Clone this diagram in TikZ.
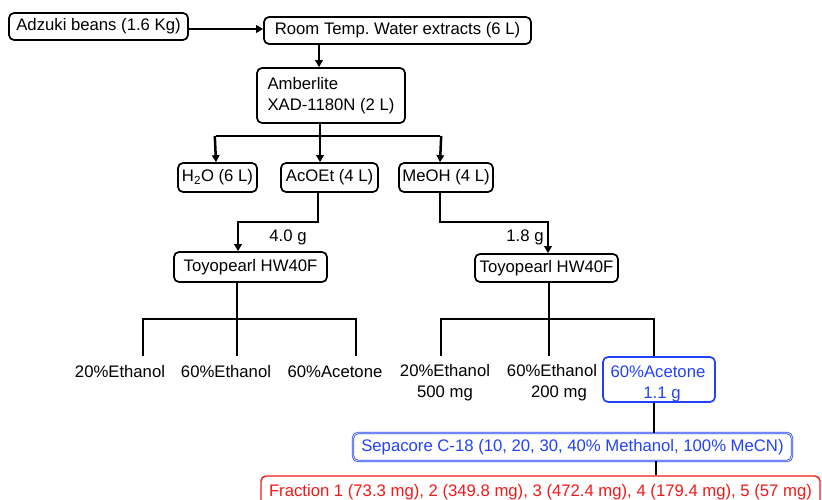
\documentclass[tikz,border=0pt]{standalone}
\usepackage{fontspec}
\setmainfont{Liberation Sans}
\usetikzlibrary{arrows.meta}
\definecolor{myblue}{RGB}{35,65,250}
\definecolor{myred}{RGB}{240,25,25}
\frenchspacing
\begin{document}
\begin{tikzpicture}[x=1pt,y=-1pt,
  every node/.style={font=\fontsize{16.7}{21}\selectfont},
  box/.style={draw, line width=1.7pt, rounded corners=5pt, inner sep=0pt, align=center},
  conn/.style={line width=2.5pt},
  arr/.style={line width=2.5pt, -{Triangle[length=7pt,width=7.5pt]}},
  thin conn/.style={line width=1.3pt},
  lbl/.style={inner sep=0pt, align=center}]
\useasboundingbox (0,0) rectangle (822,500);
\clip (0,0) rectangle (822,500);

% boxes
\node[box, minimum width=179pt, minimum height=27pt] (adz) at (98.5,26.5) {Adzuki beans (1.6 Kg)};
\node[box, minimum width=267pt, minimum height=27pt] (room) at (397.5,30.5) {Room Temp.\ Water extracts (6 L)};
\node[box, minimum width=148pt, minimum height=55pt, align=left] (amb) at (331,95.5) {Amberlite\\XAD-1180N (2 L)};
\node[box, minimum width=79pt, minimum height=29pt] (h2o) at (217.5,177.5) {H\textsubscript{2}O (6 L)};
\node[box, minimum width=97pt, minimum height=29pt] (acoet) at (329.5,177.5) {AcOEt (4 L)};
\node[box, minimum width=94pt, minimum height=29pt] (meoh) at (446,177.5) {MeOH (4 L)};
\node[box, minimum width=153pt, minimum height=30pt] (toyoL) at (250.5,267) {Toyopearl HW40F};
\node[box, minimum width=143pt, minimum height=28pt] (toyoR) at (546.5,268) {Toyopearl HW40F};
\node[box, draw=myblue, minimum width=112pt, minimum height=45pt] (blue) at (659,379.5) {};
\node[lbl, text=myblue] (bluet) at (658,383.5) {60\%Acetone\\\hspace*{8pt}1.1 g};
\node[box, draw=myblue, text=myblue, line width=0.8pt, double=white, double distance=0.7pt, minimum width=439pt, minimum height=28pt] (sep) at (572.5,447) {Sepacore C-18 (10, 20, 30, 40\% Methanol, 100\% MeCN)};
\node[box, draw=myred, text=myred, line width=1.4pt, minimum width=559pt, minimum height=32pt, text depth=4pt] (frac) at (540.5,492) {Fraction 1 (73.3 mg), 2 (349.8 mg), 3 (472.4 mg), 4 (179.4 mg), 5 (57 mg)};

% labels
\node[lbl] (l1) at (120,372) {20\%Ethanol};
\node[lbl] (l2) at (226,372) {60\%Ethanol};
\node[lbl] (l3) at (335,372) {60\%Acetone};
\node[lbl] (r1) at (445,382.5) {20\%Ethanol\\500 mg};
\node[lbl] (r2) at (552,382.5) {60\%Ethanol\\\hspace*{14pt}200 mg};
\node[lbl] (g4) at (288,237) {4.0 g};
\node[lbl] (g18) at (525,237) {1.8 g};

% column / row coordinates
\coordinate (c1) at (319,0);
\coordinate (cm) at (320,136);
\coordinate (cl) at (216,136);
\coordinate (cr) at (440,136);
\coordinate (aY) at (0,222);
\coordinate (aL) at (238,0);
\coordinate (aR) at (548,0);
\coordinate (tLx) at (237,319);
\coordinate (t1) at (143,356);
\coordinate (t2) at (237,356);
\coordinate (t3) at (356,356);
\coordinate (tRx) at (549,319);
\coordinate (u1) at (441,356);
\coordinate (u2) at (549,356);
\coordinate (u3) at (654,319);
\coordinate (s1) at (654,0);
\coordinate (s2) at (656,0);

% connectors
\draw[arr] ([yshift=-2.5pt]adz.east) -- ([yshift=-2.5pt]adz.east -| room.west);
\draw[arr] (room.south -| c1) -- (amb.north -| c1);
\draw[conn] (amb.south -| cm) -- (cm);
\draw[conn] (cl) -- (cr);
\draw[arr] ([xshift=-1.2pt]cl) -- (h2o.north -| cl);
\draw[arr] (cm) -- (acoet.north -| cm);
\draw[arr] ([xshift=1.2pt]cr) -- (meoh.north -| cr);

\draw[arr] (acoet.south -| 318,0) |- (aL |- aY) -- (toyoL.north -| aL);
\draw[arr] (meoh.south -| cr) |- (aR |- aY) -- (toyoR.north -| aR);

\draw[conn] (toyoL.south -| tLx) -- (tLx);
\draw[conn] (t1) |- (tLx) -| (t3);
\draw[conn] (tLx) -- (t2);

\draw[conn] (toyoR.south -| tRx) -- (tRx);
\draw[conn] (u1) |- (tRx) -| (blue.north -| u3);
\draw[conn] (tRx) -- (u2);

\draw[thin conn] (blue.south -| s1) -- (sep.north -| s1);
\draw[thin conn] (sep.south -| s2) -- (frac.north -| s2);
\end{tikzpicture}
\end{document}
